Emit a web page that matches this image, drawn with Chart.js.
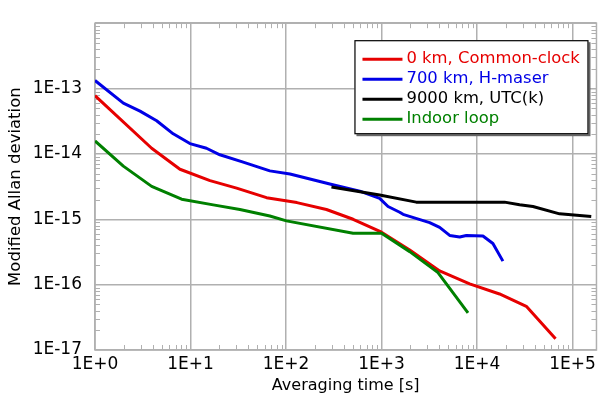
<!DOCTYPE html>
<html>
<head>
<meta charset="utf-8">
<script src="https://cdn.jsdelivr.net/npm/chart.js@4.4.0/dist/chart.umd.min.js"></script>
<style>
html,body{margin:0;padding:0;background:#fff;}
canvas{display:block;}
</style>
</head>
<body>
<canvas id="c" width="600" height="396"></canvas>
<script>
// ---- data ----
const xTicks = [1, 10, 100, 1000, 10000, 100000];
const xTickLabels = ['1E+0', '1E+1', '1E+2', '1E+3', '1E+4', '1E+5'];
const yTicks = [1e-17, 1e-16, 1e-15, 1e-14, 1e-13, 1e-12];
const yTickLabels = ['1E-17', '1E-16', '1E-15', '1E-14', '1E-13', ''];

const seriesNames = ['0 km, Common-clock', '700 km, H-maser', '9000 km, UTC(k)', 'Indoor loop'];

const tauCommon = [1, 3.92, 7.75, 16, 30.4, 62.5, 130, 265, 504, 1000, 1973, 4060, 8370, 17200, 32800, 66400];
const adevCommon = [7.8e-14, 1.22e-14, 5.83e-15, 3.9e-15, 3.0e-15, 2.14e-15, 1.8e-15, 1.41e-15, 1.0e-15, 6.35e-16, 3.39e-16, 1.62e-16, 1.03e-16, 7.2e-17, 4.66e-17, 1.48e-17];

const tauMaser = [1, 1.98, 2.96, 4.42, 6.59, 9.86, 14.7, 20.3, 35.6, 67.7, 110, 309, 592, 956, 1170, 1550, 1680, 3190, 4060, 5170, 6580, 7730, 11530, 14660, 18660];
const adevMaser = [1.33e-13, 6.0e-14, 4.52e-14, 3.22e-14, 2.03e-14, 1.44e-14, 1.22e-14, 9.7e-15, 7.5e-15, 5.5e-15, 4.92e-15, 3.38e-15, 2.69e-15, 2.09e-15, 1.57e-15, 1.28e-15, 1.19e-15, 8.9e-16, 7.5e-16, 5.66e-16, 5.36e-16, 5.66e-16, 5.55e-16, 4.27e-16, 2.29e-16];

const tauUtc = [299, 956, 2310, 19400, 27900, 38500, 73100, 157000];
const adevUtc = [3.11e-15, 2.35e-15, 1.83e-15, 1.83e-15, 1.67e-15, 1.57e-15, 1.21e-15, 1.1e-15];

const tauLoop = [1, 1.98, 3.92, 8.07, 17.3, 32.9, 67.7, 101, 504, 1000, 1973, 3900, 8040];
const adevLoop = [1.58e-14, 6.5e-15, 3.19e-15, 2.03e-15, 1.66e-15, 1.41e-15, 1.12e-15, 9.45e-16, 6.1e-16, 6.1e-16, 3.2e-16, 1.53e-16, 3.7e-17];

const seriesColors = ['#e60000', '#0000e6', '#000000', '#008000'];

// ---- build ----
function pts(xs, ys) { return xs.map((x, i) => ({ x: x, y: ys[i] })); }

const GRID = '#b0b0b0';
Chart.defaults.font.family = 'DejaVu Sans';
Chart.defaults.color = '#000';

const frameTicks = {
  id: 'frameTicks',
  beforeDatasetsDraw(chart) {
    const { ctx, chartArea: a, scales } = chart;
    ctx.save();
    ctx.strokeStyle = GRID;
    ctx.lineWidth = 1;
    const L = 5;
    const xs = scales.x;
    for (let e = 0; e <= 5; e++) {
      for (let m = 2; m <= 9; m++) {
        const v = m * Math.pow(10, e);
        if (v > xs.max) continue;
        const px = Math.round(xs.getPixelForValue(v)) + 0.5;
        ctx.beginPath();
        ctx.moveTo(px, a.bottom); ctx.lineTo(px, a.bottom - L);
        ctx.moveTo(px, a.top); ctx.lineTo(px, a.top + L);
        ctx.stroke();
      }
    }
    const ys = scales.y;
    for (let e = -17; e < -12; e++) {
      for (let m = 2; m <= 9; m++) {
        const v = m * Math.pow(10, e);
        const py = Math.round(ys.getPixelForValue(v)) + 0.5;
        ctx.beginPath();
        ctx.moveTo(a.left, py); ctx.lineTo(a.left + L, py);
        ctx.moveTo(a.right, py); ctx.lineTo(a.right - L, py);
        ctx.stroke();
      }
    }
    ctx.lineWidth = 1.5;
    ctx.strokeRect(a.left, a.top, a.right - a.left, a.bottom - a.top);
    ctx.restore();
  },
  afterDraw(chart) {
    const { ctx, chartArea: a } = chart;
    const bx = a.right - 242, by = a.top + 17, bw = 234, bh = 94;
    ctx.save();
    ctx.fillStyle = '#666';
    ctx.fillRect(bx + 2, by + 2, bw, bh);
    ctx.fillStyle = '#fff';
    ctx.fillRect(bx, by, bw, bh);
    ctx.strokeStyle = '#000';
    ctx.lineWidth = 1.2;
    ctx.strokeRect(bx + 0.5, by + 0.5, bw - 1, bh - 1);
    ctx.font = '16.4px "DejaVu Sans"';
    ctx.textBaseline = 'middle';
    ctx.textAlign = 'left';
    chart.data.datasets.forEach((ds, i) => {
      const cy = by + 19 + i * 20;
      ctx.strokeStyle = ds.borderColor;
      ctx.lineWidth = 3;
      ctx.beginPath();
      ctx.moveTo(bx + 8, cy); ctx.lineTo(bx + 48, cy);
      ctx.stroke();
      ctx.fillStyle = ds.borderColor;
      ctx.fillText(ds.label, bx + 52, cy);
    });
    ctx.restore();
  }
};

const zOrder = [2, 3, 1, 0];
const allX = [tauCommon, tauMaser, tauUtc, tauLoop];
const allY = [adevCommon, adevMaser, adevUtc, adevLoop];

new Chart(document.getElementById('c'), {
  type: 'line',
  data: {
    datasets: seriesNames.map((n, i) => ({
      label: n,
      data: pts(allX[i], allY[i]),
      borderColor: seriesColors[i],
      backgroundColor: seriesColors[i],
      borderWidth: 3,
      pointRadius: 0,
      tension: 0,
      fill: false,
      order: zOrder[i],
      borderJoinStyle: 'round'
    }))
  },
  options: {
    responsive: false,
    devicePixelRatio: 1,
    animation: false,
    layout: { padding: { top: 12, right: 3, left: 0, bottom: 0 } },
    plugins: { legend: { display: false }, tooltip: { enabled: false } },
    scales: {
      x: {
        type: 'logarithmic',
        min: 1,
        max: 178000,
        afterBuildTicks: (s) => { s.ticks = xTicks.map(v => ({ value: v })); },
        afterFit: (s) => { s.height = 46; },
        ticks: {
          autoSkip: false, maxRotation: 0, padding: 4,
          font: { size: 17 },
          callback: (v, i) => xTickLabels[i]
        },
        grid: { color: GRID, lineWidth: 1.5, drawTicks: false },
        border: { display: false },
        title: { display: true, text: 'Averaging time [s]', font: { size: 16 }, padding: { top: 0, bottom: 1 } }
      },
      y: {
        type: 'logarithmic',
        min: 1e-17,
        max: 1e-12,
        afterBuildTicks: (s) => { s.ticks = yTicks.map(v => ({ value: v })); },
        afterFit: (s) => { s.width = 95; },
        ticks: {
          autoSkip: false, padding: 13,
          font: { size: 17 },
          callback: (v, i) => yTickLabels[i]
        },
        grid: { color: GRID, lineWidth: 1.5, drawTicks: false },
        border: { display: false },
        title: { display: true, text: 'Modified Allan deviation', font: { size: 16.5 }, padding: { top: 6, bottom: 0 } }
      }
    }
  },
  plugins: [frameTicks]
});
</script>
</body>
</html>
